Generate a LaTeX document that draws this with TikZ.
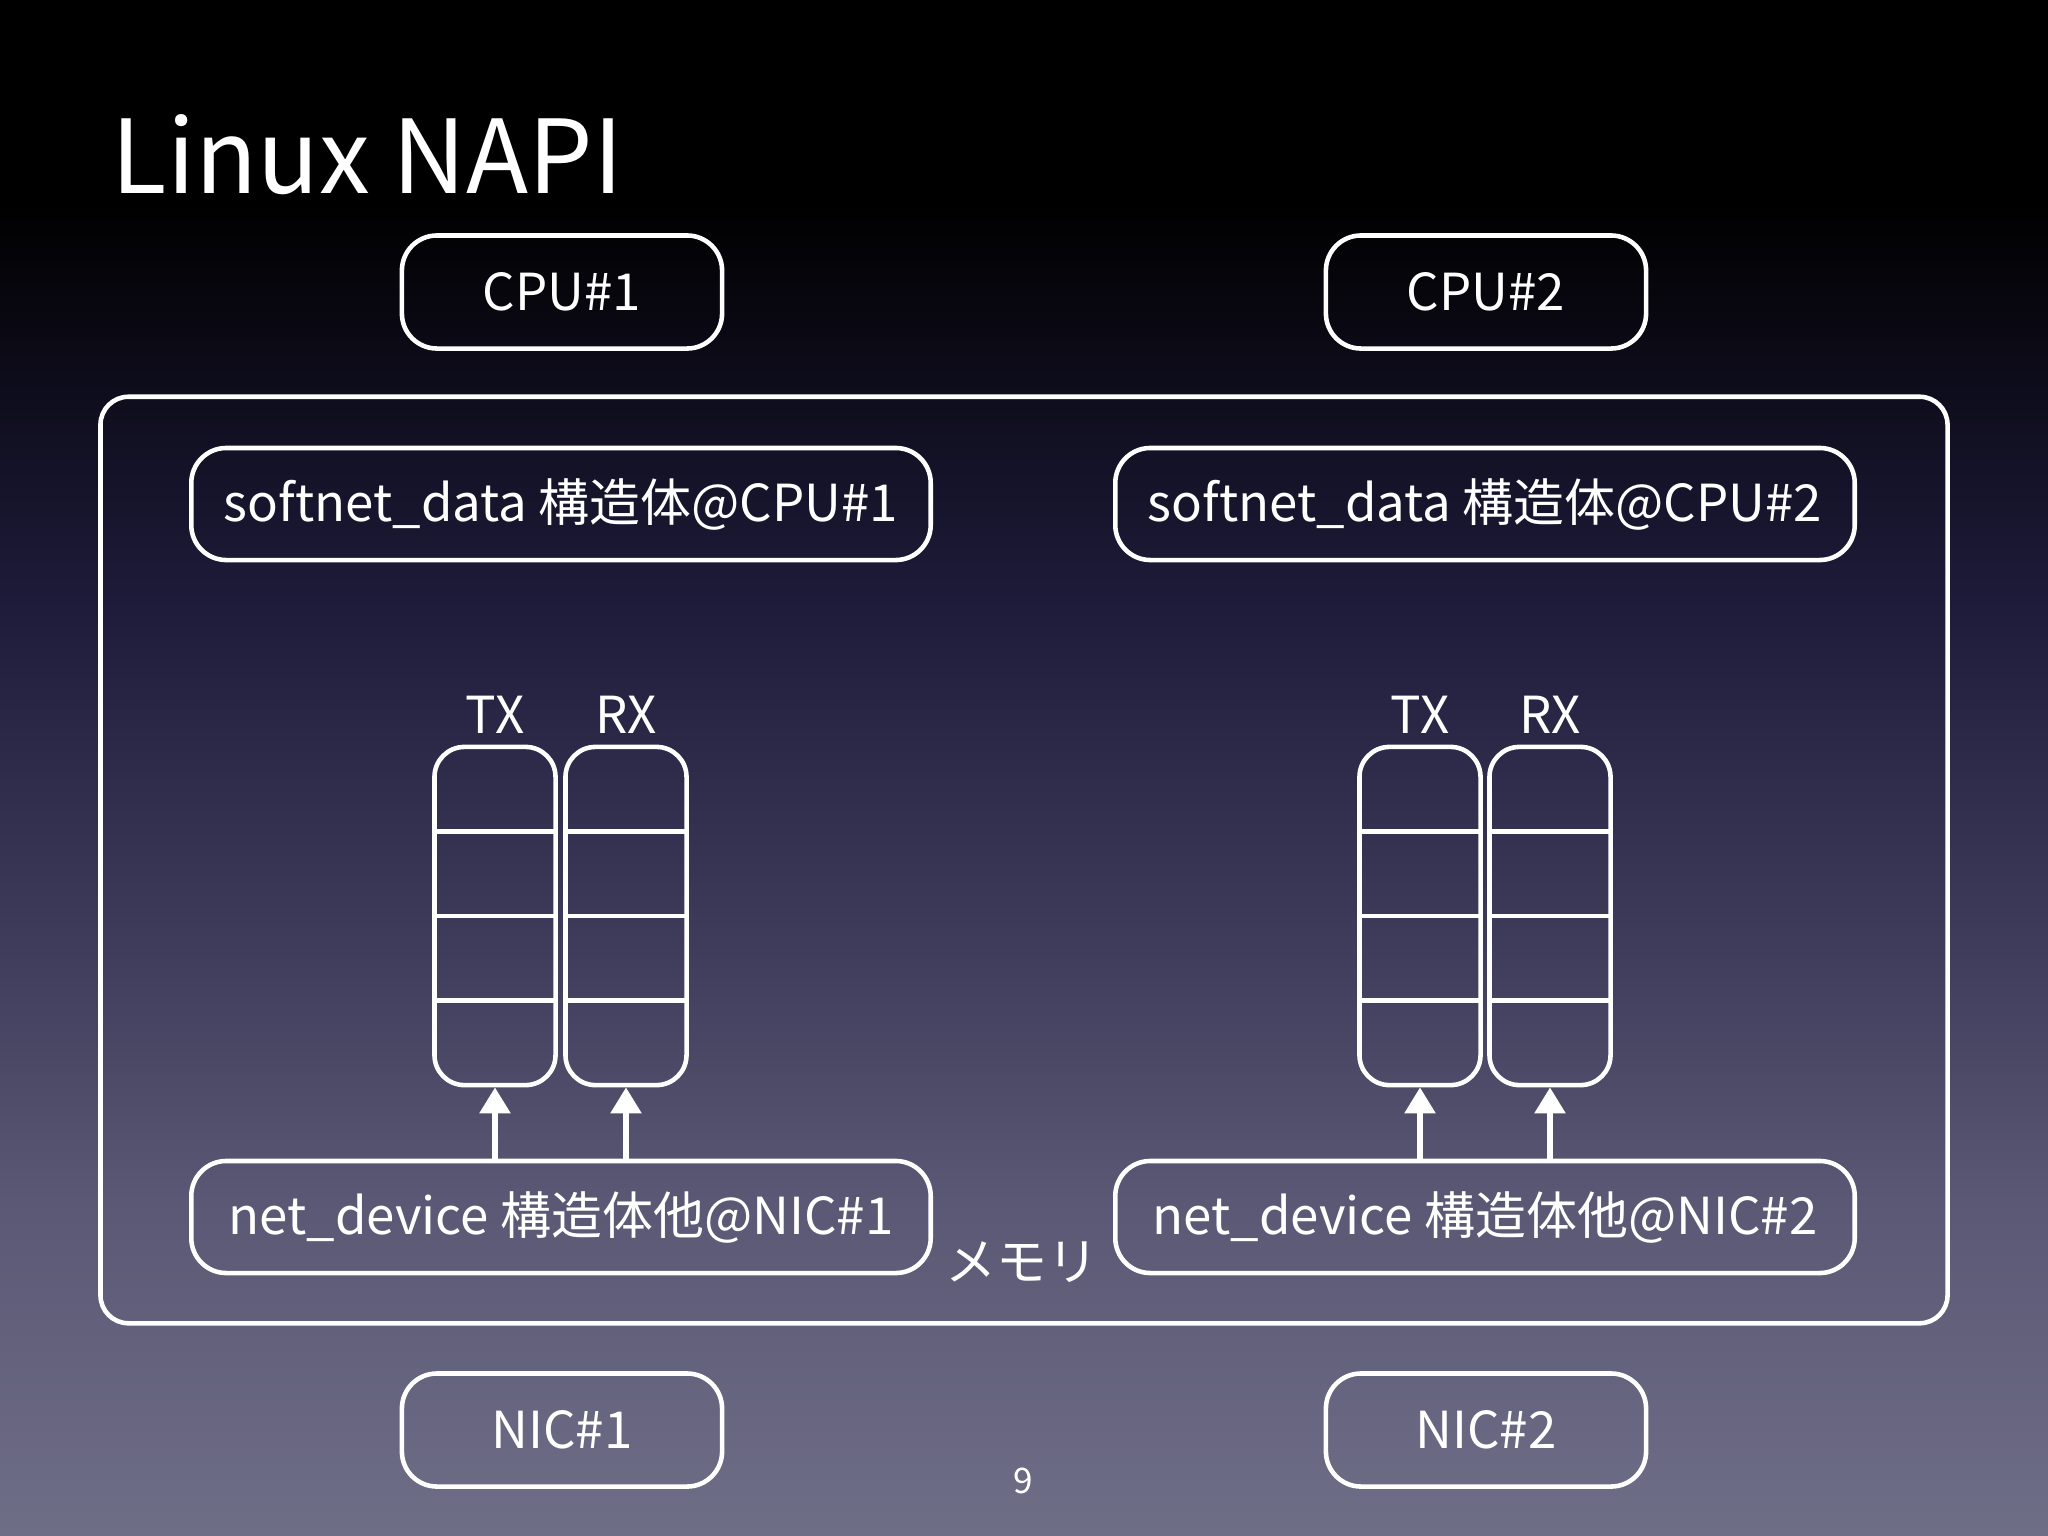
\documentclass[tikz,border=0pt]{standalone}
\usepackage{fontspec}
\setmainfont{Noto Sans CJK JP}
\usetikzlibrary{arrows.meta,positioning}
\definecolor{bgA}{RGB}{0,0,0}
\definecolor{bgB}{RGB}{30,27,58}
\definecolor{bgC}{RGB}{58,55,87}
\definecolor{bgD}{RGB}{90,88,116}
\definecolor{bgE}{RGB}{111,110,135}
\begin{document}
\begin{tikzpicture}[x=0.01cm,y=-0.01cm,
  box/.style={draw=white,line width=1.3pt,rounded corners=0.35cm,text=white,
    inner sep=0pt,font=\fontsize{14.5}{17}\selectfont},
  small/.style={box,minimum width=3.2cm,minimum height=1.13cm},
  wide/.style={box,minimum width=7.39cm,minimum height=1.12cm},
  queue/.style={box,rounded corners=0.3cm,minimum width=1.21cm,minimum height=3.38cm},
  qlbl/.style={text=white,inner sep=0pt,font=\fontsize{14.5}{17}\selectfont},
  arr/.style={white,line width=1.6pt,-{Triangle[width=0.3cm,length=0.26cm]}}]
\useasboundingbox (0,0) rectangle (2048,1536);
% background
\fill[bgA] (0,0) rectangle (2048,201);
\shade[top color=bgA,bottom color=bgB] (0,200) rectangle (2048,601);
\shade[top color=bgB,bottom color=bgC] (0,600) rectangle (2048,901);
\shade[top color=bgC,bottom color=bgD] (0,900) rectangle (2048,1201);
\shade[top color=bgD,bottom color=bgE] (0,1200) rectangle (2048,1536);
% title
\node[anchor=base west,text=white,inner sep=0pt,font=\fontsize{29}{34}\selectfont]
  (title) at (111,193) {Linux NAPI};
% CPUs
\node[small] (cpua) at (562,292) {CPU\#1};
\node[small] (cpub) at (1486,292) {CPU\#2};
% memory
\node[box,rounded corners=0.28cm,minimum width=18.46cm,minimum height=9.26cm] (mem) at (1024,860) {};
\node[qlbl] (memlbl) at (1022,1262) {メモリ};
\node[wide] (softa) at (561,504) {softnet\_data 構造体@CPU\#1};
\node[wide] (softb) at (1485,504) {softnet\_data 構造体@CPU\#2};
\node[wide] (neta) at (561,1217) {net\_device 構造体他@NIC\#1};
\node[wide] (netb) at (1485,1217) {net\_device 構造体他@NIC\#2};
% rings
\node[queue] (txa) at (495,916) {};
\node[queue] (rxa) at (626,916) {};
\node[queue] (txb) at (1420,916) {};
\node[queue] (rxb) at (1550,916) {};
\foreach \q in {txa,rxa,txb,rxb}
  \foreach \f in {-84.5,0,84.5}
    \draw[white,line width=1.3pt] ([yshift=\f*0.01cm]\q.west) -- ([yshift=\f*0.01cm]\q.east);
\node[qlbl,above=0.1cm of txa] (txal) {TX};
\node[qlbl,above=0.1cm of rxa] (rxal) {RX};
\node[qlbl,above=0.1cm of txb] (txbl) {TX};
\node[qlbl,above=0.1cm of rxb] (rxbl) {RX};
\draw[arr] (txa |- neta.north) -- (txa.south);
\draw[arr] (rxa |- neta.north) -- (rxa.south);
\draw[arr] (txb |- netb.north) -- (txb.south);
\draw[arr] (rxb |- netb.north) -- (rxb.south);
% NICs
\node[small] (nica) at (562,1430) {NIC\#1};
\node[small] (nicb) at (1486,1430) {NIC\#2};
\node[text=white,inner sep=0pt,font=\fontsize{10}{12}\selectfont] (page) at (1023,1481) {9};
\end{tikzpicture}
\end{document}
